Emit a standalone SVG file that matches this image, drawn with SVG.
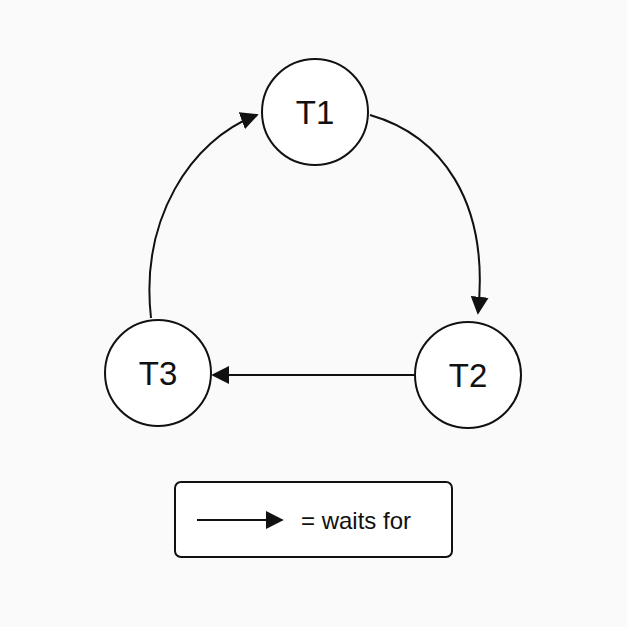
<svg xmlns="http://www.w3.org/2000/svg" width="627" height="627" viewBox="0 0 627 627">
<style>
.n{fill:#fff;stroke:#111;stroke-width:2}
.t{font-family:"Liberation Sans",Arial,sans-serif;font-size:33px;fill:#111;text-anchor:middle;dominant-baseline:central}
.c{fill:none;stroke:#111;stroke-width:2}
</style>
<defs><marker id="b" viewBox="0 0 10 10" refX="9" refY="5" markerWidth="18" markerHeight="18" markerUnits="userSpaceOnUse" orient="auto"><path d="M0,0L10,5L0,10z" fill="#111"/></marker></defs>
<rect width="627" height="627" fill="#fafafa"/>
<g id="connectors">
<path class="c" d="M370,115 C440,135 490,200 478,313" marker-end="url(#b)"/>
<path class="c" d="M151,318 C140,220 190,140 257,115" marker-end="url(#b)"/>
<path class="c" d="M414,375 L213,375" marker-end="url(#b)"/>
</g>
<g id="T1"><circle class="n" cx="315" cy="112" r="53"/><text class="t" x="315" y="112">T1</text></g>
<g id="T2"><circle class="n" cx="468" cy="375" r="53"/><text class="t" x="468" y="375">T2</text></g>
<g id="T3"><circle class="n" cx="158" cy="373" r="53"/><text class="t" x="158" y="373">T3</text></g>
<g id="legend">
<rect x="175" y="482" width="277" height="75" rx="6" fill="#fff" stroke="#111" stroke-width="2"/>
<path class="c" d="M197,520 L282,520" marker-end="url(#b)"/>
<text x="301" y="520" font-family="Liberation Sans,Arial,sans-serif" font-size="24" fill="#111" dominant-baseline="central">= waits for</text>
</g>
</svg>
